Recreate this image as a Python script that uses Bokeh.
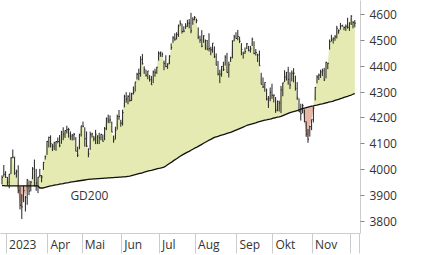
import numpy as np
import pandas as pd
from bokeh.plotting import figure
from bokeh.models import FixedTicker, Range1d
from bokeh.embed import file_html
from bokeh.resources import INLINE
from bokeh.core.properties import value

# ---------------- data ----------------
first_day = "2023-02-24"
last_day = "2023-12-05"
holidays = ["2023-04-07", "2023-05-29", "2023-06-19", "2023-07-04", "2023-09-04", "2023-11-23"]

close = [
    3970.0, 3982.2, 3970.2,
    3951.4, 3981.4, 4045.6, 4048.4, 3986.4, 3992.0, 3918.3, 3861.6, 3855.8, 3919.3, 3891.9, 3960.3, 3916.6, 3951.6, 4002.9, 3937.0, 3948.7, 3971.0, 3977.5, 3971.3, 4027.8, 4050.8, 4109.3,
    4124.5, 4100.6, 4090.4, 4105.0, 4109.1, 4108.9, 4092.0, 4146.2, 4137.6, 4151.3, 4154.9, 4154.5, 4129.8, 4133.5, 4137.0, 4071.6, 4056.0, 4135.4, 4169.5,
    4167.9, 4119.6, 4090.8, 4061.2, 4136.3, 4138.1, 4119.2, 4137.6, 4130.6, 4124.1, 4136.3, 4109.9, 4158.8, 4198.1, 4192.0, 4192.6, 4145.6, 4115.2, 4151.3, 4205.5, 4205.5, 4179.8,
    4221.0, 4282.4, 4273.8, 4283.9, 4267.5, 4293.9, 4298.9, 4338.9, 4369.0, 4372.6, 4425.8, 4409.6, 4388.7, 4365.7, 4381.9, 4348.3, 4328.8, 4378.4, 4376.9, 4396.4, 4450.4,
    4455.6, 4446.8, 4411.6, 4399.0, 4409.5, 4439.3, 4472.2, 4510.0, 4505.4, 4522.8, 4555.0, 4565.7, 4534.9, 4536.3, 4554.6, 4567.5, 4566.8, 4537.4, 4582.2, 4589.0,
    4576.7, 4513.4, 4501.9, 4478.0, 4518.4, 4499.4, 4467.7, 4468.8, 4464.1, 4489.7, 4437.9, 4404.3, 4370.4, 4369.7, 4399.8, 4387.6, 4436.0, 4376.3, 4405.7, 4433.3, 4497.6, 4514.9, 4507.7,
    4515.8, 4496.8, 4465.5, 4451.1, 4457.5, 4487.5, 4461.9, 4467.4, 4505.1, 4450.3, 4453.5, 4444.0, 4402.2, 4330.0, 4320.1, 4337.4, 4273.5, 4274.5, 4299.7, 4288.1,
    4288.4, 4229.5, 4263.8, 4258.2, 4308.5, 4335.7, 4358.2, 4377.0, 4349.6, 4327.8, 4373.6, 4373.2, 4314.6, 4278.0, 4224.2, 4217.0, 4247.7, 4186.8, 4137.2, 4117.4, 4166.8, 4193.8,
    4237.9, 4317.8, 4358.3, 4366.0, 4378.4, 4382.8, 4347.4, 4415.2, 4411.6, 4495.7, 4502.9, 4508.2, 4514.0, 4547.4, 4538.2, 4556.6, 4559.3, 4550.4, 4554.9, 4550.6, 4567.8,
    4594.6, 4569.8, 4567.2,
]

high = [
    3978, 4018, 3994,
    3972, 3984, 4048, 4078, 4050, 4000, 4017, 3934, 3905, 3938, 3898, 3964, 3958, 3956, 4010, 4039, 4003, 3972, 4003, 3979, 4030, 4055, 4111,
    4128, 4133, 4100, 4108, 4110, 4124, 4134, 4150, 4164, 4152, 4170, 4162, 4148, 4138, 4142, 4126, 4089, 4139, 4170,
    4186, 4164, 4148, 4083, 4147, 4143, 4131, 4154, 4133, 4143, 4139, 4136, 4165, 4202, 4213, 4210, 4186, 4132, 4166, 4213, 4231, 4193,
    4232, 4290, 4300, 4288, 4299, 4298, 4322, 4340, 4375, 4391, 4439, 4448, 4400, 4387, 4382, 4366, 4363, 4384, 4391, 4398, 4458,
    4456, 4454, 4422, 4443, 4412, 4443, 4489, 4517, 4528, 4532, 4562, 4578, 4565, 4555, 4567, 4580, 4583, 4607, 4590, 4595,
    4585, 4551, 4519, 4540, 4520, 4504, 4502, 4528, 4476, 4490, 4477, 4450, 4421, 4387, 4401, 4418, 4443, 4452, 4418, 4437, 4501, 4522, 4532,
    4541, 4515, 4490, 4457, 4473, 4490, 4479, 4479, 4511, 4497, 4467, 4449, 4461, 4375, 4357, 4338, 4314, 4285, 4318, 4333,
    4291, 4281, 4268, 4267, 4324, 4337, 4385, 4378, 4398, 4377, 4384, 4393, 4364, 4339, 4276, 4255, 4255, 4233, 4187, 4157, 4170, 4194,
    4245, 4320, 4366, 4372, 4387, 4391, 4394, 4418, 4414, 4504, 4522, 4512, 4521, 4557, 4543, 4568, 4560, 4555, 4562, 4588, 4570,
    4598, 4575, 4579,
]

low = [
    3943, 3973, 3968,
    3939, 3928, 3983, 4044, 3980, 3969, 3908, 3846, 3809, 3874, 3838, 3864, 3901, 3916, 3963, 3936, 3918, 3909, 3970, 3951, 3999, 4039, 4057,
    4086, 4086, 4072, 4076, 4073, 4102, 4087, 4100, 4114, 4123, 4140, 4124, 4115, 4113, 4114, 4071, 4049, 4079, 4128,
    4164, 4089, 4088, 4048, 4077, 4124, 4110, 4099, 4099, 4099, 4114, 4109, 4114, 4153, 4180, 4180, 4145, 4104, 4117, 4155, 4193, 4166,
    4171, 4241, 4259, 4253, 4263, 4266, 4291, 4302, 4349, 4346, 4360, 4407, 4371, 4360, 4350, 4341, 4328, 4335, 4360, 4371, 4422,
    4437, 4436, 4385, 4397, 4390, 4408, 4464, 4491, 4499, 4504, 4514, 4557, 4527, 4532, 4545, 4553, 4547, 4528, 4561, 4578,
    4567, 4505, 4491, 4474, 4491, 4464, 4462, 4458, 4443, 4453, 4432, 4404, 4365, 4335, 4360, 4382, 4403, 4376, 4357, 4417, 4431, 4497, 4507,
    4501, 4490, 4443, 4430, 4448, 4467, 4458, 4453, 4479, 4447, 4442, 4417, 4402, 4330, 4316, 4302, 4268, 4239, 4265, 4274,
    4260, 4220, 4226, 4225, 4219, 4284, 4339, 4345, 4329, 4312, 4342, 4338, 4306, 4270, 4224, 4190, 4218, 4183, 4127, 4104, 4128, 4153,
    4183, 4268, 4334, 4347, 4355, 4363, 4343, 4353, 4389, 4465, 4496, 4488, 4499, 4508, 4526, 4542, 4553, 4540, 4537, 4546, 4537,
    4560, 4547, 4551,
]

gd200 = [
    3938, 3938, 3937, 3937, 3937, 3937, 3937, 3937, 3937, 3937, 3937, 3937, 3937, 3937, 3937, 3937, 3937, 3937, 3937, 3937, 3937,
    3929, 3929, 3929, 3931, 3933, 3935, 3937,
    3938, 3940, 3941, 3942, 3944, 3945, 3946, 3948, 3949, 3950, 3952,
    3953, 3954, 3955, 3956, 3957, 3958, 3959, 3960, 3961, 3962, 3963,
    3963, 3964, 3964, 3965, 3965, 3966, 3966, 3967, 3967, 3968, 3968,
    3969, 3969, 3970, 3970, 3971, 3971, 3972, 3972, 3973, 3974, 3975,
    3977, 3979, 3981, 3983, 3985, 3986, 3988, 3990, 3992,
    3994, 3996, 3997, 3999, 4001, 4003, 4005, 4006, 4008, 4010,
    4014, 4019, 4024, 4028, 4033, 4038, 4042, 4047, 4052,
    4056, 4060, 4064, 4068, 4071, 4075, 4079, 4083, 4086, 4090,
    4094, 4098, 4102, 4106, 4110, 4114, 4117, 4121, 4125,
    4127, 4129, 4132, 4134, 4136, 4138, 4140, 4142, 4144,
    4147, 4150, 4153, 4156, 4159, 4162, 4165, 4168, 4171,
    4173, 4175, 4177, 4179, 4181, 4184, 4186, 4188, 4190,
    4192, 4193, 4195, 4196, 4198, 4200, 4201, 4203, 4204, 4206,
    4209, 4212, 4215, 4218, 4221,
    4223, 4225, 4227, 4229, 4231, 4234, 4236, 4238, 4240, 4242, 4244,
    4246, 4247, 4249, 4250, 4252, 4254, 4255, 4257, 4259, 4260, 4262, 4263,
    4265, 4268, 4270, 4272, 4275, 4277, 4280, 4282, 4284, 4287, 4289, 4292, 4294,
]

month_labels = ["2023", "Apr", "Mai", "Jun", "Jul", "Aug", "Sep", "Okt", "Nov"]
y_ticks = [3800, 3900, 4000, 4100, 4200, 4300, 4400, 4500, 4600]
ma_label = "GD200"

# ---------------- layout constants ----------------
FONT = "Open Sans"
PX_PER_BAR = 1.8
label_px_widths = [27.5, 19.8, 20.6, 18.0, 13.7, 21.6, 20.7, 20.0, 22.3]

n = len(close)
dates = pd.bdate_range(first_day, last_day, freq="C", holidays=holidays)[:n]
x = np.arange(n, dtype=float)
c = np.array(close, dtype=float)
ma = np.array(gd200[:n], dtype=float)

# month boundaries (between bars)
bounds = [i - 0.5 for i in range(1, n) if dates[i].month != dates[i - 1].month]
x_start = -0.833
x_end = x_start + 360 / PX_PER_BAR
centers = [round(b + (2.5 + w / 2) / PX_PER_BAR, 3) for b, w in zip(bounds, label_px_widths)]
overrides = {cx: lab for cx, lab in zip(centers, month_labels)}

p = figure(width=426, height=255,
           x_range=Range1d(x_start, x_end), y_range=Range1d(3752.8, 4654.9),
           y_axis_location="right", toolbar_location=None, output_backend="svg",
           min_border_left=0, min_border_top=0, min_border_right=66, min_border_bottom=20)
p.outline_line_color = None
p.xgrid.visible = False
p.ygrid.visible = False
p.background_fill_color = "white"
p.border_fill_color = "white"

# fills between price and GD200
p.varea(x=x, y1=ma, y2=np.maximum(c, ma), fill_color="#e4eab1", fill_alpha=1.0)
p.varea(x=x, y1=np.minimum(c, ma), y2=ma, fill_color="#e8b7a4", fill_alpha=1.0)

# HLC bars
p.segment(x0=x, y0=low, x1=x, y1=high, line_color="#222222", line_width=1)
p.segment(x0=x, y0=c, x1=x + 0.55, y1=c, line_color="#222222", line_width=1)

# GD200 line
p.line(x, ma, line_color="#111111", line_width=1.3)
p.text(x=[38], y=[3899], text=[ma_label], text_font=value(FONT), text_font_size="12px",
       text_color="#333344", text_baseline="middle", text_align="left")

# x axis
xa = p.xaxis[0]
xa.ticker = FixedTicker(ticks=centers, minor_ticks=bounds + [x_end - 0.3])
xa.major_label_overrides = overrides
xa.axis_line_color = "#cccccc"
xa.major_tick_line_color = None
xa.major_tick_out = 0
xa.major_tick_in = 0
xa.minor_tick_out = 20
xa.minor_tick_in = 0
xa.minor_tick_line_color = "#cccccc"
xa.major_label_text_font = FONT
xa.major_label_text_font_size = "12px"
xa.major_label_text_color = "#333333"
xa.major_label_standoff = -18

# y axis (right)
ya = p.yaxis[0]
ya.ticker = FixedTicker(ticks=y_ticks)
ya.axis_line_color = "#cccccc"
ya.major_tick_out = 4
ya.major_tick_in = 0
ya.major_tick_line_color = "#888888"
ya.minor_tick_line_color = None
ya.major_label_text_font = FONT
ya.major_label_text_font_size = "12px"
ya.major_label_text_color = "#333333"
ya.major_label_standoff = 5

open("out.html", "w").write(file_html(p, INLINE))
